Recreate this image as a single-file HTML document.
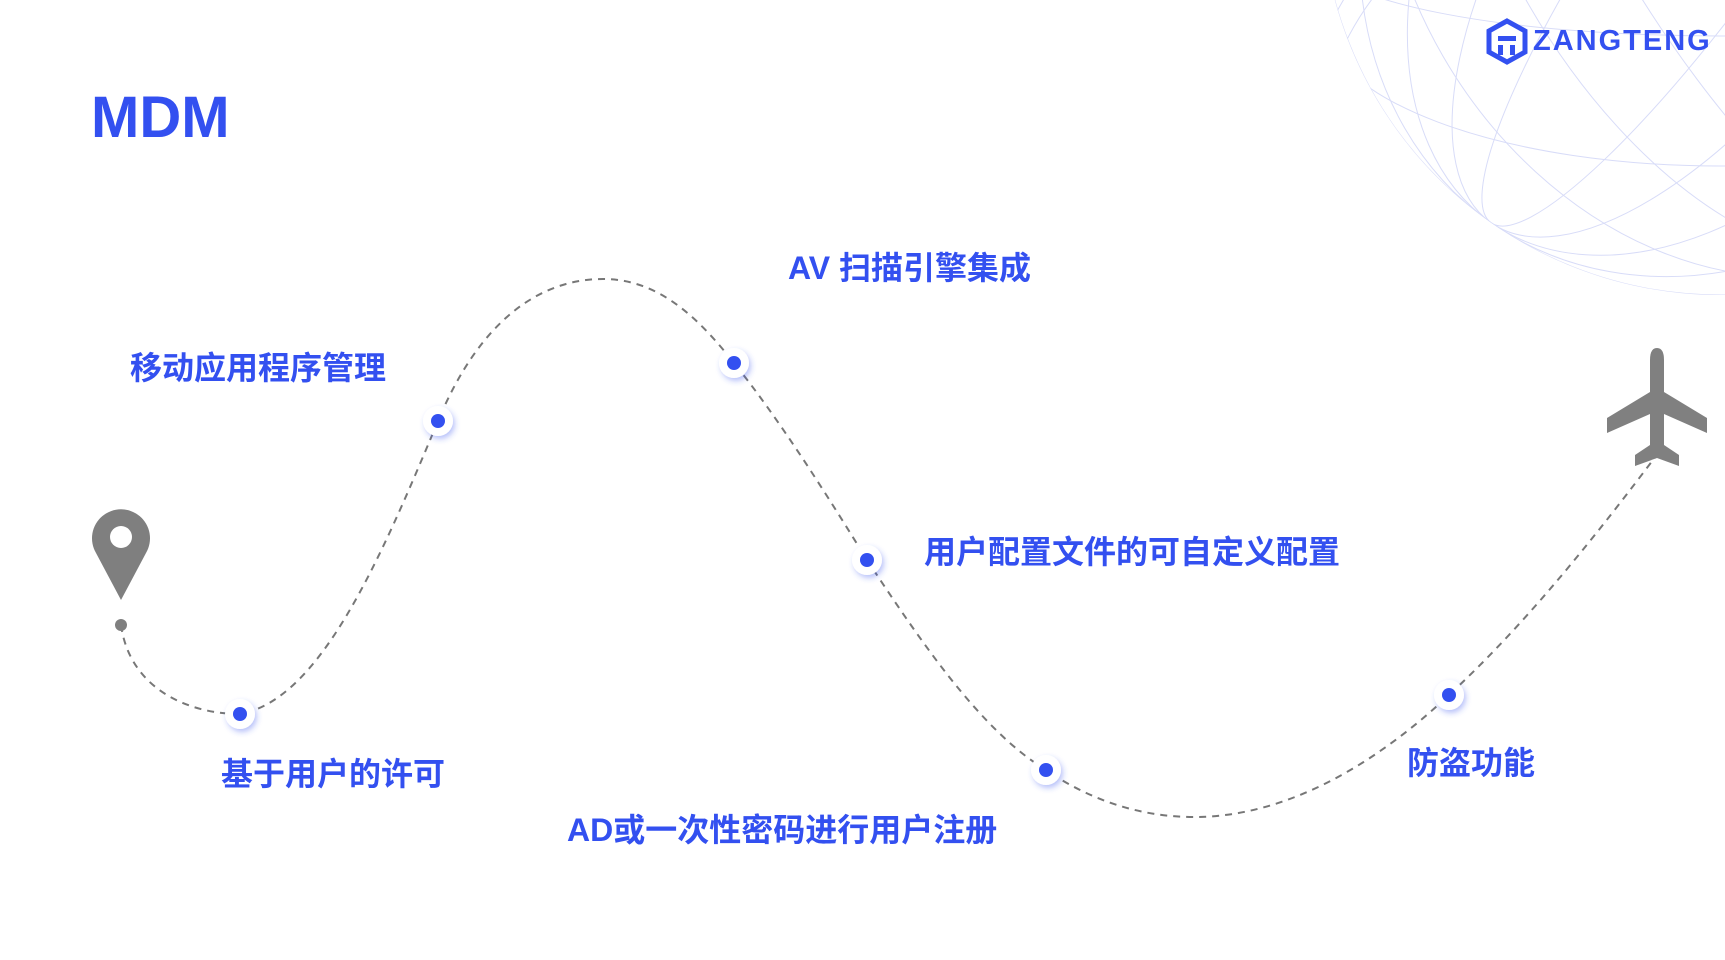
<!DOCTYPE html>
<html><head><meta charset="utf-8"><style>
html,body{margin:0;padding:0;background:#fff;width:1725px;height:960px;overflow:hidden}
.t{position:absolute;font-family:"Liberation Sans","Noto Sans CJK SC",sans-serif;font-weight:bold;color:#3350f0;white-space:nowrap;line-height:1}
.l{font-size:32px}
</style></head><body>
<svg width="1725" height="960" style="position:absolute;left:0;top:0">
<defs>
<clipPath id="g"><circle cx="1720" cy="-104" r="399"/></clipPath>
<filter id="sh" x="-50%" y="-50%" width="200%" height="200%"><feDropShadow dx="2" dy="3" stdDeviation="3" flood-color="#3350f0" flood-opacity="0.35"/></filter>
</defs>
<g stroke="#d8dcf8" stroke-width="1" fill="none" clip-path="url(#g)">
<circle cx="1720" cy="-104" r="399"/>
<ellipse cx="1720" cy="-104" rx="399" ry="80" transform="translate(0,60)"/>
<ellipse cx="1720" cy="-104" rx="399" ry="150" transform="translate(0,120)"/>
<ellipse cx="1720" cy="-104" rx="399" ry="230" transform="translate(0,180)"/>
<ellipse cx="1720" cy="-104" rx="399" ry="300" transform="translate(0,250)"/>
<ellipse cx="1720" cy="-104" rx="80" ry="399" transform="rotate(35 1720 -104)"/>
<ellipse cx="1720" cy="-104" rx="170" ry="399" transform="rotate(35 1720 -104)"/>
<ellipse cx="1720" cy="-104" rx="260" ry="399" transform="rotate(35 1720 -104)"/>
<ellipse cx="1720" cy="-104" rx="340" ry="399" transform="rotate(35 1720 -104)"/>
<ellipse cx="1720" cy="-104" rx="120" ry="399" transform="rotate(-30 1720 -104)"/>
<ellipse cx="1720" cy="-104" rx="220" ry="399" transform="rotate(-30 1720 -104)"/>
<ellipse cx="1720" cy="-104" rx="320" ry="399" transform="rotate(-30 1720 -104)"/>
</g>
<path d="M121,625 C130,690 190,714 240,714 C320,700 380,560 438,421 C480,320 540,279 603,279 C660,279 700,320 734,363 C780,420 830,500 867,560 C920,640 980,730 1046,770 C1090,800 1140,817 1194,817 C1290,817 1380,760 1449,695 C1530,620 1600,530 1656,456" fill="none" stroke="#777" stroke-width="2" stroke-dasharray="7,6"/>
<circle cx="121" cy="625" r="6" fill="#7f7f7f"/>
<path d="M121,600 L96,553 A29,29 0 1 1 146,553 Z" fill="#7f7f7f"/>
<circle cx="121" cy="537" r="11" fill="#fff"/>
<path d="M1650,360 Q1650,348 1657,348 Q1664,348 1664,360 L1664,392 L1707,418 L1707,433 L1664,414 L1664,445 L1679,455 L1679,466 L1657,458 L1635,466 L1635,455 L1650,445 L1650,414 L1607,433 L1607,418 L1650,392 Z" fill="#808080"/>
<g>
<circle cx="240" cy="714" r="15" fill="#fff" filter="url(#sh)"/><circle cx="240" cy="714" r="7" fill="#3350f0"/>
<circle cx="438" cy="421" r="15" fill="#fff" filter="url(#sh)"/><circle cx="438" cy="421" r="7" fill="#3350f0"/>
<circle cx="734" cy="363" r="15" fill="#fff" filter="url(#sh)"/><circle cx="734" cy="363" r="7" fill="#3350f0"/>
<circle cx="867" cy="560" r="15" fill="#fff" filter="url(#sh)"/><circle cx="867" cy="560" r="7" fill="#3350f0"/>
<circle cx="1046" cy="770" r="15" fill="#fff" filter="url(#sh)"/><circle cx="1046" cy="770" r="7" fill="#3350f0"/>
<circle cx="1449" cy="695" r="15" fill="#fff" filter="url(#sh)"/><circle cx="1449" cy="695" r="7" fill="#3350f0"/>
</g>
<g fill="#3350f0">
<path d="M1507,21 L1525,31 L1525,52 L1507,62 L1489,52 L1489,31 Z" fill="none" stroke="#3350f0" stroke-width="5"/>
<rect x="1498" y="36" width="18" height="5"/><rect x="1498" y="45" width="5" height="10"/><rect x="1510" y="45" width="5" height="10"/>
</g>
</svg>
<div class="t" style="left:91px;top:89px;font-size:58px">MDM</div>
<div class="t" style="left:1533px;top:27px;font-size:29px;letter-spacing:2px">ZANGTENG</div>
<div class="t l" style="left:130px;top:352px">移动应用程序管理</div>
<div class="t l" style="left:788px;top:252px">AV 扫描引擎集成</div>
<div class="t l" style="left:924px;top:536px">用户配置文件的可自定义配置</div>
<div class="t l" style="left:221px;top:758px">基于用户的许可</div>
<div class="t l" style="left:567px;top:814px">AD或一次性密码进行用户注册</div>
<div class="t l" style="left:1407px;top:747px">防盗功能</div>
</body></html>
